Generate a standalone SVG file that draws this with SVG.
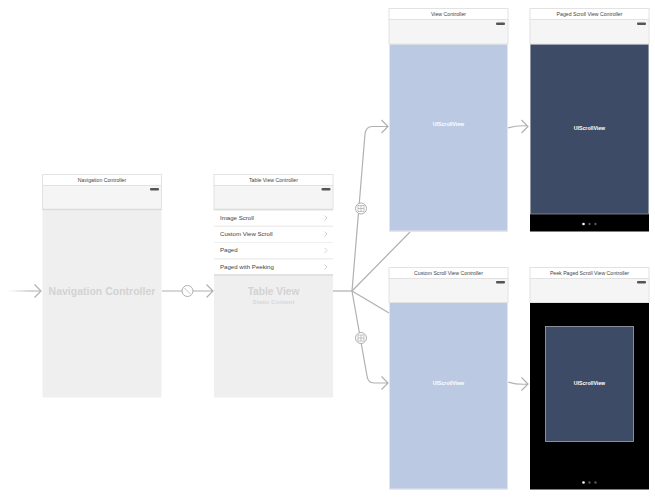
<svg xmlns="http://www.w3.org/2000/svg" width="655" height="500" viewBox="0 0 655 500">
<defs>
<linearGradient id="fade" gradientUnits="userSpaceOnUse" x1="7" y1="291" x2="30" y2="291"><stop offset="0" stop-color="#b0b0b0" stop-opacity="0"/><stop offset="1" stop-color="#b0b0b0"/></linearGradient>
</defs>
<style>
text{font-family:"Liberation Sans",Arial,sans-serif;text-anchor:middle}
.title{font-size:5.2px;fill:#444}
.tb{fill:#fff;stroke:#e2e2e2;stroke-width:1}
.bar{fill:#f5f5f5;stroke:#e2e2e2;stroke-width:1}
.batt{fill:#555}
.body{fill:#efefef}
.sep{stroke:#dcdcdc;stroke-width:1.5}
.us{font-size:5.2px;font-weight:bold;fill:#fff}
.cell{font-size:6.1px;fill:#444;text-anchor:start}
.row{fill:#fff}
.chev{fill:none;stroke:#c8c8c8;stroke-width:.8}
.conn{fill:none;stroke:#b0b0b0;stroke-width:1.2}
.badge{fill:#fff;stroke:#b0b0b0;stroke-width:1}
.icon{fill:none;stroke:#aaa;stroke-width:.7}
.blue{fill:#bcc9e3}
.navy{fill:#3e4b66}
.dot{fill:#555}
</style>
<g id="connectors">
<path d="M7 291H41" fill="none" stroke="url(#fade)" stroke-width="1.200"/>
<path class="conn" d="M34.500 284.500L41 291L34.500 297.500"/>
<path class="conn" d="M162 291H213M206.500 284.500L213 291L206.500 297.500"/>
<path class="conn" d="M333 291H352"/>
<path class="conn" d="M352 291L365 134Q366 126.500 372 126.500H388M381.500 120L388 126.500L381.500 133"/>
<path class="conn" d="M352 291L410 232"/>
<path class="conn" d="M352 291L389 313"/>
<path class="conn" d="M352 291L367 376Q368 383 374 383H388M381.500 376.500L388 383L381.500 389.500"/>
<path class="conn" d="M508 128Q518 125 528 126M521.500 120L528 126.500L521.500 133"/>
<path class="conn" d="M508 382Q518 385 528 384M521.500 377.500L528 384L521.500 390.500"/>
<circle class="badge" cx="187.500" cy="291" r="5.500"/>
<path class="icon" d="M184.500 288L190.500 294"/>
<circle class="badge" cx="361" cy="208.500" r="5.500"/>
<rect class="icon" x="358" y="205.500" width="6" height="6"/><path class="icon" d="M361 205.500V211.500M358 208.500H364"/>
<circle class="badge" cx="361" cy="338" r="5.500"/>
<rect class="icon" x="358" y="335" width="6" height="6"/><path class="icon" d="M361 335V341M358 338H364"/>
</g>
<g id="navigation-controller">
<rect class="body" x="42.500" y="209" width="119" height="188.500"/>
<rect class="tb" x="42.500" y="174.500" width="119" height="11"/>
<text class="title" x="102" y="182">Navigation Controller</text>
<rect class="bar" x="42.500" y="185.500" width="119" height="24"/>
<rect class="batt" x="150" y="188" width="9" height="2.500" rx="1"/>
<path class="sep" d="M42.500 209.500H161.500"/>
<text x="102" y="295" font-size="10.500" font-weight="bold" fill="#d3d3d3">Navigation Controller</text>
</g>
<g id="table-view-controller">
<rect class="body" x="214" y="209" width="119" height="188.500"/>
<rect class="tb" x="214" y="174.500" width="119" height="11"/>
<text class="title" x="273.500" y="182">Table View Controller</text>
<rect class="bar" x="214" y="185.500" width="119" height="24"/>
<rect class="batt" x="321.500" y="188" width="9" height="2.500" rx="1"/>
<rect class="row" x="214" y="210.500" width="119" height="15"/>
<rect class="row" x="214" y="227" width="119" height="15"/>
<rect class="row" x="214" y="243" width="119" height="15"/>
<rect class="row" x="214" y="259.500" width="119" height="15"/>
<path class="sep" d="M214 209.500H333M214 275H333"/>
<text class="cell" x="220" y="219.500">Image Scroll</text>
<text class="cell" x="220" y="236">Custom View Scroll</text>
<text class="cell" x="220" y="252">Paged</text>
<text class="cell" x="220" y="269">Paged with Peeking</text>
<path class="chev" d="M324.500 215.500L327 218L324.500 220.500M324.500 231.500L327 234L324.500 236.500M324.500 248L327 250.500L324.500 253M324.500 264.500L327 267L324.500 269.500"/>
<text x="273.500" y="295" font-size="10.200" font-weight="bold" fill="#d3d3d3">Table View</text>
<text x="273.500" y="304" font-size="6.200" font-weight="bold" fill="#d8d8d8">Static Content</text>
</g>
<g id="view-controller">
<rect x="389" y="44" width="119" height="188" fill="#e4e6ec"/>
<rect class="blue" x="390" y="44.500" width="117" height="186"/>
<rect class="tb" x="389" y="8.500" width="119" height="11"/>
<text class="title" x="448.500" y="16">View Controller</text>
<rect class="bar" x="389" y="19.500" width="119" height="24.500"/>
<rect class="batt" x="496" y="22.500" width="9" height="2.500" rx="1"/>
<text class="us" x="448.500" y="126">UIScrollView</text>
</g>
<g id="paged-scroll-view-controller">
<rect x="530" y="214" width="119" height="17.500" fill="#000"/>
<rect class="navy" x="530.500" y="44" width="118" height="170" stroke="#8a8f9c" stroke-width=".8"/>
<rect class="tb" x="530" y="8.500" width="119" height="11"/>
<text class="title" x="589.500" y="16">Paged Scroll View Controller</text>
<rect class="bar" x="530" y="19.500" width="119" height="24.500"/>
<rect class="batt" x="637" y="22.500" width="9" height="2.500" rx="1"/>
<text class="us" x="589.500" y="130">UIScrollView</text>
<circle cx="583.500" cy="224" r="1.300" fill="#fff"/><circle class="dot" cx="589.500" cy="224" r="1.200"/><circle class="dot" cx="595.500" cy="224" r="1.200"/>
</g>
<g id="custom-scroll-view-controller">
<rect x="389" y="302" width="119" height="188" fill="#e4e6ec"/>
<rect class="blue" x="390" y="302.500" width="117" height="186"/>
<rect class="tb" x="389" y="267.500" width="119" height="11"/>
<text class="title" x="448.500" y="275">Custom Scroll View Controller</text>
<rect class="bar" x="389" y="278.500" width="119" height="24"/>
<rect class="batt" x="496" y="281" width="9" height="2.500" rx="1"/>
<text class="us" x="448.500" y="385">UIScrollView</text>
</g>
<g id="peek-paged-scroll-view-controller">
<rect x="530" y="302" width="119" height="187.500" fill="#000"/>
<rect class="navy" x="545.500" y="326.500" width="88" height="115" stroke="#a5a9b3" stroke-width=".8"/>
<rect class="tb" x="530" y="267.500" width="119" height="11"/>
<text class="title" x="589.500" y="275">Peek Paged Scroll View Controller</text>
<rect class="bar" x="530" y="278.500" width="119" height="24"/>
<rect class="batt" x="637" y="281" width="9" height="2.500" rx="1"/>
<text class="us" x="589.500" y="385">UIScrollView</text>
<circle cx="583.500" cy="482.500" r="1.300" fill="#fff"/><circle class="dot" cx="589.500" cy="482.500" r="1.200"/><circle class="dot" cx="595.500" cy="482.500" r="1.200"/>
</g>
</svg>
